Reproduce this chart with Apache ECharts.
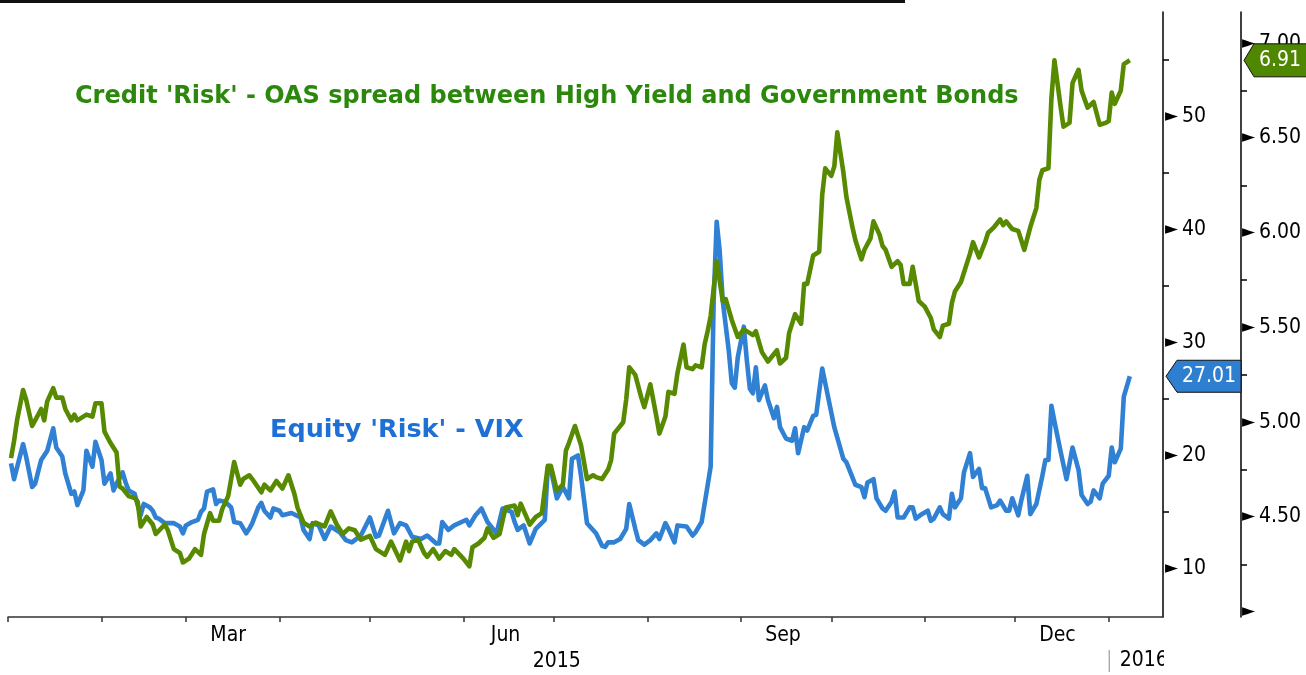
<!DOCTYPE html>
<html><head><meta charset="utf-8">
<script src="https://cdn.jsdelivr.net/npm/echarts@6/dist/echarts.min.js"></script>
<style>html,body{margin:0;padding:0;background:#fff}#c{width:1306px;height:675px}</style>
</head><body><div id="c"></div>
<script>
const vixDates = ['2015-01-02','2015-01-03','2015-01-06','2015-01-07','2015-01-09','2015-01-10','2015-01-12','2015-01-14','2015-01-16','2015-01-17','2015-01-19','2015-01-20','2015-01-22','2015-01-23','2015-01-24','2015-01-26','2015-01-27','2015-01-29','2015-01-30',
'2015-02-01','2015-02-02','2015-02-04','2015-02-05','2015-02-06','2015-02-08','2015-02-09','2015-02-10','2015-02-12','2015-02-13','2015-02-14','2015-02-15','2015-02-17','2015-02-18','2015-02-19','2015-02-20','2015-02-22','2015-02-25','2015-02-27','2015-02-28',
'2015-03-01','2015-03-03','2015-03-05','2015-03-06','2015-03-07','2015-03-08','2015-03-10','2015-03-11','2015-03-12','2015-03-14','2015-03-16','2015-03-17','2015-03-19','2015-03-21','2015-03-22','2015-03-23','2015-03-25','2015-03-26','2015-03-27','2015-03-29','2015-03-30',
'2015-04-01','2015-04-02','2015-04-05','2015-04-08','2015-04-09','2015-04-11','2015-04-12','2015-04-14','2015-04-16','2015-04-18','2015-04-21','2015-04-23','2015-04-25','2015-04-28',
'2015-05-01','2015-05-03','2015-05-04','2015-05-07','2015-05-09','2015-05-11','2015-05-13','2015-05-15','2015-05-18','2015-05-20','2015-05-23','2015-05-24','2015-05-25','2015-05-27','2015-05-29',
'2015-06-02','2015-06-03','2015-06-05','2015-06-07','2015-06-09','2015-06-12','2015-06-14','2015-06-17','2015-06-18','2015-06-19','2015-06-21','2015-06-23','2015-06-25','2015-06-28','2015-06-29','2015-06-30',
'2015-07-02','2015-07-04','2015-07-06','2015-07-07','2015-07-09','2015-07-10','2015-07-12','2015-07-14','2015-07-15','2015-07-17','2015-07-18','2015-07-19','2015-07-21','2015-07-23','2015-07-25','2015-07-26','2015-07-28','2015-07-29','2015-07-31',
'2015-08-02','2015-08-04','2015-08-05','2015-08-07','2015-08-08','2015-08-10','2015-08-11','2015-08-14','2015-08-16','2015-08-17','2015-08-19','2015-08-20','2015-08-22','2015-08-23','2015-08-24','2015-08-25','2015-08-26','2015-08-28','2015-08-29','2015-08-30','2015-08-31',
'2015-09-02','2015-09-03','2015-09-04','2015-09-05','2015-09-06','2015-09-07','2015-09-09','2015-09-10','2015-09-12','2015-09-13','2015-09-14','2015-09-16','2015-09-18','2015-09-19','2015-09-20','2015-09-22','2015-09-23','2015-09-25','2015-09-26','2015-09-28','2015-09-29',
'2015-10-02','2015-10-05','2015-10-06','2015-10-09','2015-10-11','2015-10-12','2015-10-13','2015-10-15','2015-10-16','2015-10-18','2015-10-19','2015-10-21','2015-10-22','2015-10-23','2015-10-25','2015-10-27','2015-10-28','2015-10-29','2015-10-31',
'2015-11-02','2015-11-03','2015-11-04','2015-11-06','2015-11-07','2015-11-09','2015-11-10','2015-11-11','2015-11-13','2015-11-14','2015-11-16','2015-11-17','2015-11-19','2015-11-20','2015-11-21','2015-11-23','2015-11-25','2015-11-26','2015-11-28','2015-11-29','2015-11-30',
'2015-12-02','2015-12-03','2015-12-05','2015-12-06','2015-12-08','2015-12-10','2015-12-11','2015-12-12','2015-12-13','2015-12-14','2015-12-16','2015-12-18','2015-12-19','2015-12-20','2015-12-22','2015-12-23','2015-12-25','2015-12-26','2015-12-27','2015-12-29','2015-12-30',
'2016-01-01','2016-01-02','2016-01-03','2016-01-05','2016-01-06','2016-01-08'];
const vixValues = [19.3,17.9,21.0,19.9,17.2,17.5,19.6,20.4,22.4,20.7,19.9,18.4,16.6,16.8,15.6,16.9,20.4,19.0,21.2,
19.6,17.5,18.4,16.9,17.5,18.5,17.6,16.9,16.6,15.6,14.7,15.7,15.4,15.1,14.5,14.4,14.0,14.0,13.7,13.1,
13.8,14.1,14.3,15.0,15.3,16.8,17.0,15.7,16.0,15.9,15.4,14.1,14.0,13.1,13.5,14.0,15.4,15.8,15.1,14.5,15.3,
15.1,14.7,14.9,14.5,13.4,12.6,14.0,13.8,12.6,13.7,13.2,12.5,12.3,12.9,
14.5,12.8,12.9,15.1,13.1,14.0,13.8,12.8,12.6,12.9,12.2,12.2,14.1,13.4,13.8,
14.3,13.8,14.7,15.3,14.1,13.1,15.3,15.0,14.1,13.4,13.8,12.2,13.5,14.3,18.9,18.8,
16.2,17.2,16.2,19.7,20.0,18.2,14.0,13.4,13.1,12.0,11.9,12.3,12.3,12.6,13.5,15.7,13.5,12.5,12.1,
12.5,13.1,12.6,14.0,13.5,12.3,13.8,13.7,12.9,13.2,14.1,15.7,19.0,33.7,40.7,38.1,33.7,29.3,26.4,26.0,28.7,
31.4,28.4,25.9,25.5,27.8,24.9,26.2,24.9,23.3,24.3,22.5,21.5,21.3,22.4,20.2,22.5,22.2,23.5,23.6,27.7,26.4,
22.5,19.7,19.4,17.4,17.2,16.3,17.6,17.9,16.2,15.3,15.1,15.9,16.8,14.5,14.5,15.4,15.4,14.4,14.8,
15.1,14.2,14.4,15.4,14.8,14.4,16.6,15.4,16.2,18.5,20.2,18.1,18.8,17.1,17.1,15.4,15.6,16.0,15.1,15.1,16.2,
14.7,16.0,18.2,14.8,15.7,18.2,19.6,19.6,24.4,23.0,20.4,17.9,19.3,20.7,18.7,16.5,15.7,15.9,16.9,16.2,17.5,
18.2,20.7,19.4,20.6,25.2,27.01];

const oasDates = ['2015-01-02','2015-01-03','2015-01-04','2015-01-06','2015-01-07','2015-01-09','2015-01-10','2015-01-12','2015-01-13','2015-01-14','2015-01-16','2015-01-17','2015-01-19','2015-01-20','2015-01-22','2015-01-23','2015-01-24','2015-01-27','2015-01-29','2015-01-30',
'2015-02-01','2015-02-02','2015-02-04','2015-02-06','2015-02-07','2015-02-08','2015-02-10','2015-02-12','2015-02-13','2015-02-14','2015-02-16','2015-02-18','2015-02-19','2015-02-22','2015-02-23','2015-02-25','2015-02-27','2015-02-28',
'2015-03-02','2015-03-04','2015-03-06','2015-03-07','2015-03-09','2015-03-10','2015-03-12','2015-03-13','2015-03-15','2015-03-17','2015-03-19','2015-03-20','2015-03-22','2015-03-23','2015-03-26','2015-03-27','2015-03-29','2015-03-31',
'2015-04-02','2015-04-04','2015-04-06','2015-04-07','2015-04-09','2015-04-11','2015-04-13','2015-04-16','2015-04-18','2015-04-20','2015-04-22','2015-04-24','2015-04-26','2015-04-28',
'2015-05-01','2015-05-03','2015-05-06','2015-05-08','2015-05-11','2015-05-13','2015-05-14','2015-05-15','2015-05-17','2015-05-19','2015-05-20','2015-05-22','2015-05-24','2015-05-26','2015-05-28','2015-05-29',
'2015-06-01','2015-06-03','2015-06-04','2015-06-06','2015-06-08','2015-06-09','2015-06-11','2015-06-13','2015-06-15','2015-06-18','2015-06-19','2015-06-20','2015-06-23','2015-06-25','2015-06-27','2015-06-29','2015-06-30',
'2015-07-02','2015-07-04','2015-07-05','2015-07-06','2015-07-08','2015-07-10','2015-07-12','2015-07-14','2015-07-15','2015-07-17','2015-07-19','2015-07-20','2015-07-21','2015-07-24','2015-07-25','2015-07-26','2015-07-28','2015-07-30','2015-07-31',
'2015-08-02','2015-08-04','2015-08-05','2015-08-07','2015-08-08','2015-08-10','2015-08-11','2015-08-13','2015-08-14','2015-08-16','2015-08-17','2015-08-19','2015-08-20','2015-08-21','2015-08-22','2015-08-24','2015-08-26','2015-08-27','2015-08-29','2015-08-31',
'2015-09-02','2015-09-04','2015-09-05','2015-09-06','2015-09-08','2015-09-10','2015-09-11','2015-09-13','2015-09-14','2015-09-16','2015-09-17','2015-09-19','2015-09-21','2015-09-22','2015-09-23','2015-09-25','2015-09-27','2015-09-28','2015-09-29',
'2015-10-01','2015-10-02','2015-10-03','2015-10-05','2015-10-06','2015-10-08','2015-10-09','2015-10-11','2015-10-12','2015-10-14','2015-10-15','2015-10-17','2015-10-18','2015-10-19','2015-10-21','2015-10-23','2015-10-24','2015-10-25','2015-10-27','2015-10-28','2015-10-30',
'2015-11-01','2015-11-03','2015-11-04','2015-11-06','2015-11-07','2015-11-09','2015-11-10','2015-11-11','2015-11-13','2015-11-14','2015-11-16','2015-11-17','2015-11-19','2015-11-21','2015-11-22','2015-11-24','2015-11-26','2015-11-27','2015-11-28','2015-11-30',
'2015-12-02','2015-12-03','2015-12-04','2015-12-06','2015-12-08','2015-12-09','2015-12-10','2015-12-12','2015-12-13','2015-12-14','2015-12-16','2015-12-17','2015-12-19','2015-12-20','2015-12-22','2015-12-23','2015-12-25','2015-12-27','2015-12-29','2015-12-31',
'2016-01-01','2016-01-02','2016-01-03','2016-01-05','2016-01-06','2016-01-08'];
const oasValues = [4.81,4.90,5.01,5.17,5.12,4.98,5.01,5.07,5.01,5.11,5.18,5.13,5.13,5.07,5.01,5.04,5.01,5.04,5.03,5.10,
5.10,4.95,4.89,4.84,4.66,4.65,4.61,4.60,4.58,4.45,4.50,4.46,4.41,4.46,4.43,4.33,4.31,4.26,
4.28,4.33,4.30,4.41,4.52,4.48,4.48,4.54,4.61,4.79,4.67,4.70,4.72,4.70,4.63,4.67,4.64,4.69,
4.65,4.72,4.62,4.55,4.47,4.45,4.47,4.45,4.53,4.46,4.41,4.44,4.43,4.38,
4.40,4.33,4.30,4.37,4.27,4.37,4.32,4.37,4.38,4.31,4.29,4.33,4.28,4.32,4.30,4.33,
4.28,4.24,4.34,4.36,4.39,4.44,4.39,4.41,4.55,4.56,4.51,4.57,4.46,4.50,4.52,4.77,4.77,
4.64,4.67,4.85,4.89,4.98,4.88,4.70,4.72,4.71,4.70,4.75,4.80,4.94,5.00,5.12,5.29,5.25,5.13,5.08,
5.20,5.03,4.94,5.03,5.16,5.15,5.26,5.41,5.29,5.28,5.30,5.29,5.41,5.48,5.56,5.85,5.64,5.65,5.54,5.45,
5.49,5.47,5.46,5.48,5.37,5.32,5.34,5.38,5.31,5.34,5.47,5.57,5.52,5.73,5.73,5.88,5.90,6.20,6.34,
6.30,6.35,6.53,6.32,6.19,6.03,5.96,5.86,5.91,5.97,6.06,5.99,5.93,5.91,5.82,5.85,5.83,5.73,5.73,5.82,5.64,
5.61,5.55,5.49,5.45,5.51,5.52,5.63,5.69,5.74,5.79,5.89,5.95,5.87,5.95,6.00,6.03,6.07,6.04,6.06,6.02,
6.01,5.96,5.91,6.03,6.13,6.28,6.33,6.34,6.71,6.91,6.67,6.56,6.58,6.79,6.86,6.75,6.66,6.69,6.57,6.58,
6.59,6.74,6.68,6.75,6.89,6.91];

const vixLabelValues = [10, 20, 30, 40, 50];
const vixMinorTicks = [15, 25, 35, 45, 55];
const oasLabelValues = [4.0, 4.5, 5.0, 5.5, 6.0, 6.5, 7.0];
const oasMinorTicks = [4.25, 4.75, 5.25, 5.75, 6.25, 6.75];
const monthLabelDays = ['2015-03-15', '2015-06-15', '2015-09-15', '2015-12-15'];
const monthLabels = ['Mar', 'Jun', 'Sep', 'Dec'];
const yearLabelDays = ['2015-07-02', '2016-01-01'];
const yearLabels = ['2015', '2016'];
const creditTitle = "Credit 'Risk' - OAS spread between High Yield and Government Bonds";
const equityTitle = "Equity 'Risk' - VIX";

const FONT = "'DejaVu Sans Condensed', 'DejaVu Sans', sans-serif";
const GREEN_LINE = '#578a00', BLUE_LINE = '#3081d3';
const GREEN_TEXT = '#2c880c', BLUE_TEXT = '#1f70d4';

// calendar days of the axis (category axis used for month ticks / labels)
const days = [];
const start = Date.UTC(2015, 0, 1);
for (let i = 0; i < 384; i++) days.push(new Date(start + i * 86400000).toISOString().slice(0, 10));

const chart = echarts.init(document.getElementById('c'), null, { renderer: 'canvas' });

const triRich = {
  t: { fontSize: 17, fontFamily: 'DejaVu Sans', color: '#000', padding: [0, 4, 0, 0] },
  v: { fontSize: 21, fontFamily: FONT, color: '#000' }
};

const option = {
  animation: false,
  backgroundColor: '#fff',
  grid: { left: 8, right: 143, top: 12, bottom: 58, containLabel: false, outerBoundsMode: 'none' },
  xAxis: [
    { type: 'time', show: false, min: days[0], max: days[days.length - 1] },
    {
      type: 'category', data: days, boundaryGap: false, position: 'bottom',
      axisLine: { show: true, lineStyle: { color: '#333', width: 1.5 } },
      axisTick: { show: true, length: 5, interval: (i, v) => v.slice(8) === '01', lineStyle: { color: '#333', width: 1.5 } },
      axisLabel: {
        interval: (i, v) => monthLabelDays.indexOf(v) >= 0,
        formatter: v => monthLabels[monthLabelDays.indexOf(v)] || '',
        margin: 8, fontSize: 21, color: '#000', fontFamily: FONT
      },
      splitLine: { show: false }
    },
    {
      type: 'category', data: days, boundaryGap: false, position: 'bottom',
      axisLine: { show: false }, axisTick: { show: false }, splitLine: { show: false },
      axisLabel: {
        interval: (i, v) => v === yearLabelDays[0],
        formatter: v => yearLabels[0],
        margin: 34, fontSize: 21, color: '#000', fontFamily: FONT
      }
    },
    {
      type: 'category', data: days, boundaryGap: false, position: 'bottom',
      axisLine: { show: false }, axisTick: { show: false }, splitLine: { show: false },
      axisLabel: {
        interval: (i, v) => v === yearLabelDays[1],
        formatter: v => '{s| }{y|' + yearLabels[1] + '}',
        align: 'left', margin: 33,
        rich: {
          s: { width: 1, height: 22, backgroundColor: '#888' },
          y: { fontSize: 21, color: '#000', fontFamily: FONT, padding: [0, 0, 0, 10] }
        }
      }
    }
  ],
  yAxis: [
    {
      type: 'value', position: 'right', offset: 0, min: 5.69, max: 59.27,
      splitLine: { show: false },
      axisLine: { show: true, lineStyle: { color: '#000', width: 1.5 } },
      axisTick: { show: true, customValues: vixMinorTicks, length: 6, lineStyle: { color: '#000', width: 1.5 } },
      axisLabel: { customValues: vixLabelValues, margin: 2, formatter: v => '{t|►}{v|' + v + '}', rich: triRich }
    },
    {
      type: 'value', position: 'right', offset: 78, min: 3.972, max: 7.165,
      splitLine: { show: false },
      axisLine: { show: true, lineStyle: { color: '#000', width: 1.5 } },
      axisTick: { show: true, customValues: oasMinorTicks, length: 6, lineStyle: { color: '#000', width: 1.5 } },
      axisLabel: { customValues: oasLabelValues, margin: 1,
        formatter: v => v < 4.2 ? '{t|►}' : '{t|►}{v|' + v.toFixed(2) + '}', rich: triRich }
    }
  ],
  series: [
    { name: 'VIX', type: 'line', xAxisIndex: 0, yAxisIndex: 0, showSymbol: false, symbol: 'none',
      data: vixDates.map((d, i) => [d, vixValues[i]]),
      lineStyle: { color: BLUE_LINE, width: 4.6, join: 'round' } },
    { name: 'OAS', type: 'line', xAxisIndex: 0, yAxisIndex: 1, showSymbol: false, symbol: 'none',
      data: oasDates.map((d, i) => [d, oasValues[i]]),
      lineStyle: { color: GREEN_LINE, width: 4.6, join: 'round' } }
  ]
};
chart.setOption(option);

// value tags on the axes, placed through the axes' own scales
const vixLast = vixValues[vixValues.length - 1];
const oasLast = oasValues[oasValues.length - 1];
const axX0 = chart.convertToPixel({ xAxisIndex: 1 }, days.length - 1);
const axX1 = axX0 + 78;
const yV = chart.convertToPixel({ yAxisIndex: 0 }, vixLast);
const yO = chart.convertToPixel({ yAxisIndex: 1 }, oasLast);
const W = chart.getWidth();

chart.setOption({
  graphic: [
    { type: 'rect', z: 100, shape: { x: 0, y: 0, width: 905, height: 3 }, style: { fill: '#111' } },
    { type: 'rect', z: 100, shape: { x: axX0 + 1, y: 640, width: W, height: 40 }, style: { fill: '#fff' } },
    { type: 'text', z: 100, style: { text: creditTitle, x: 75, y: 97, fill: GREEN_TEXT,
        font: 'bold 24px "DejaVu Sans", sans-serif', verticalAlign: 'middle' } },
    { type: 'text', z: 100, style: { text: equityTitle, x: 270, y: 430, fill: BLUE_TEXT,
        font: 'bold 25.5px "DejaVu Sans", sans-serif', verticalAlign: 'middle' } },
    { type: 'polygon', z: 110, shape: { points: [[axX0 + 3, yV], [axX0 + 14, yV - 16], [axX1, yV - 16], [axX1, yV + 16], [axX0 + 14, yV + 16]] },
      style: { fill: '#2f7fd1', stroke: '#111', lineWidth: 1 } },
    { type: 'text', z: 111, style: { text: vixLast.toFixed(2), x: axX0 + 19, y: yV, fill: '#fff',
        font: '21px ' + FONT, verticalAlign: 'middle' } },
    { type: 'polygon', z: 110, shape: { points: [[axX1 + 3, yO], [axX1 + 13, yO - 16.5], [W + 5, yO - 16.5], [W + 5, yO + 16.5], [axX1 + 13, yO + 16.5]] },
      style: { fill: '#4f8700', stroke: '#111', lineWidth: 1 } },
    { type: 'text', z: 111, style: { text: oasLast.toFixed(2), x: axX1 + 18, y: yO, fill: '#fff',
        font: '21px ' + FONT, verticalAlign: 'middle' } }
  ]
});
</script>
</body></html>
